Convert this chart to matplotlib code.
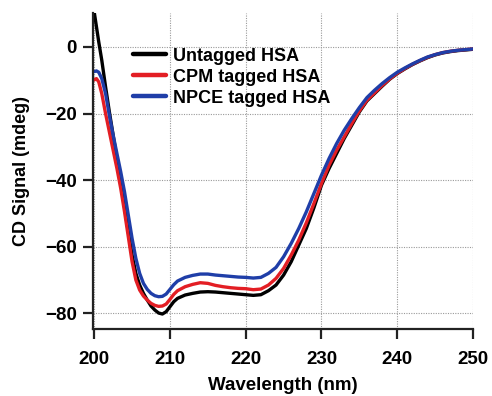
import matplotlib
matplotlib.use("Agg")
import matplotlib.pyplot as plt

plt.rcParams['font.family'] = ['Liberation Sans', 'DejaVu Sans']
plt.rcParams['font.weight'] = 'bold'

wavelength = [200, 200.3, 200.6, 201, 201.5, 202, 202.5, 203, 203.5, 204, 204.5,
              205, 205.5, 206, 206.5, 207, 207.5, 208, 208.5, 209, 209.5, 210,
              210.5, 211, 212, 213, 214, 215, 216, 217, 218, 219, 220, 221, 222,
              223, 224, 225, 226, 227, 228, 229, 230, 231, 232, 233, 234, 235,
              236, 237, 238, 239, 240, 241, 242, 243, 244, 245, 246, 247, 248,
              249, 250]

untagged = [10.5, 6.0, 1.5, -4.0, -12.0, -19.5, -26.5, -33.5, -40.5, -48.0, -55.5,
            -62.5, -68.0, -71.5, -74.0, -76.0, -77.8, -79.0, -79.9, -80.2, -79.5, -78.0,
            -76.5, -75.5, -74.5, -74.0, -73.6, -73.5, -73.6, -73.8, -74.0, -74.2, -74.4,
            -74.6, -74.4, -73.2, -71.5, -68.5, -64.5, -59.5, -54.5, -48.3, -41.5, -36.5,
            -32.0, -27.5, -23.5, -19.5, -16.2, -14.0, -11.8, -9.7, -8.0, -6.6, -5.3,
            -4.2, -3.2, -2.4, -1.8, -1.4, -1.1, -0.9, -0.7]

cpm = [-9.9, -9.5, -10.5, -14.0, -20.0, -25.5, -31.0, -36.5, -42.5, -49.5, -57.0,
       -64.5, -70.0, -73.0, -74.8, -76.0, -77.0, -77.6, -77.9, -77.8, -77.2, -75.8,
       -74.3, -73.2, -72.0, -71.3, -70.8, -71.0, -71.6, -72.0, -72.3, -72.5, -72.6,
       -72.9, -72.7, -71.5, -69.5, -66.5, -62.5, -58.0, -52.8, -47.0, -41.0, -35.5,
       -31.0, -27.0, -23.0, -19.2, -16.0, -13.8, -11.6, -9.6, -7.9, -6.5, -5.2,
       -4.1, -3.1, -2.3, -1.7, -1.3, -1.0, -0.8, -0.6]

npce = [-7.4, -7.2, -7.6, -9.5, -14.0, -20.5, -26.5, -32.0, -37.5, -43.5, -50.5,
        -57.5, -63.5, -68.0, -71.0, -72.8, -74.0, -74.7, -75.0, -74.9, -74.2, -72.8,
        -71.4, -70.3, -69.2, -68.6, -68.2, -68.2, -68.5, -68.7, -68.9, -69.1, -69.2,
        -69.4, -69.2, -68.0, -66.2, -63.0, -59.0, -54.5, -49.5, -44.0, -38.5, -33.5,
        -29.0, -25.0, -21.5, -18.2, -15.2, -13.0, -11.0, -9.2, -7.6, -6.3, -5.1,
        -4.0, -3.0, -2.3, -1.7, -1.3, -1.0, -0.8, -0.6]

labels = ["Untagged HSA", "CPM tagged HSA", "NPCE tagged HSA"]
colors = ["#000000", "#e31e24", "#1f3ea8"]
xticks = [200, 210, 220, 230, 240, 250]
yticks = [0, -20, -40, -60, -80]

fig = plt.figure(figsize=(4.92, 3.96), dpi=100)
ax = fig.add_axes([0.1884, 0.1692, 0.7730, 0.7980])

for ys, lab, c in zip([untagged, cpm, npce], labels, colors):
    ax.plot(wavelength, ys, color=c, lw=2.4, label=lab, solid_capstyle='round',
            solid_joinstyle='round')

ax.set_xlim(199.8, 250)
ax.set_ylim(-84.7, 10.2)
ax.set_xticks(xticks)
ax.set_yticks(yticks)
ax.grid(True, color='#9a9a9a', linestyle=(0, (1, 1.2)), linewidth=0.8)
ax.set_axisbelow(True)

for s in ['top', 'right']:
    ax.spines[s].set_visible(False)
for s in ['left', 'bottom']:
    ax.spines[s].set_linewidth(1.6)
    ax.spines[s].set_color('#222222')

ax.tick_params(axis='both', direction='out', length=7.5, width=1.6, color='#222222',
               labelsize=13.5)
ax.tick_params(axis='x', pad=8)
ax.tick_params(axis='y', pad=4)
for lbl in ax.get_xticklabels() + ax.get_yticklabels():
    lbl.set_fontweight('bold')

ax.set_xlabel("Wavelength (nm)", fontsize=13.5, fontweight='bold', labelpad=7)
ax.set_ylabel("CD Signal (mdeg)", fontsize=13, fontweight='bold', labelpad=11)

leg = ax.legend(loc='upper left', bbox_to_anchor=(0.106, 0.89), frameon=False,
                fontsize=13, handlelength=1.85, handletextpad=0.35,
                labelspacing=0.22, borderpad=0, borderaxespad=0)
for line in leg.get_lines():
    line.set_linewidth(3.2)
for t in leg.get_texts():
    t.set_fontweight('bold')

fig.savefig("out.png", dpi=100)
